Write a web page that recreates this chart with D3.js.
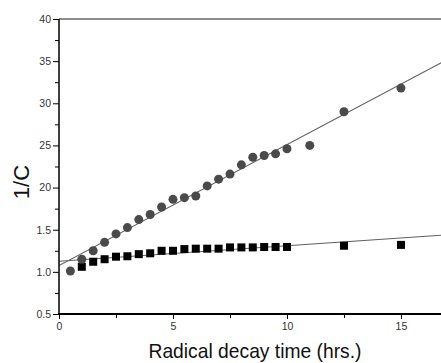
<!DOCTYPE html>
<html><head><meta charset="utf-8">
<script src="https://cdn.jsdelivr.net/npm/d3@7"></script>
<style>body{margin:0;background:#fff}svg{display:block}</style>
</head><body><svg id="c" width="441" height="363"></svg>
<script>
// Data
const circleTimes = [0.5,1,1.5,2,2.5,3,3.5,4,4.5,5,5.5,6,6.5,7,7.5,8,8.5,9,9.5,10,11,12.5,15];
const circleValues = [1.01,1.15,1.25,1.35,1.45,1.525,1.62,1.68,1.77,1.86,1.88,1.90,2.02,2.10,2.16,2.27,2.36,2.38,2.40,2.46,2.50,2.90,3.18];
const squareTimes = [1,1.5,2,2.5,3,3.5,4,4.5,5,5.5,6,6.5,7,7.5,8,8.5,9,9.5,10,12.5,15];
const squareValues = [1.06,1.12,1.15,1.18,1.185,1.21,1.22,1.25,1.25,1.27,1.275,1.275,1.275,1.29,1.29,1.29,1.295,1.295,1.295,1.31,1.32];
const fitIntercepts = [1.075, 1.125]; // circles, squares
const fitSlopes = [0.1435, 0.0185];
const xTicks = [0,5,10,15];
const xMinorTicks = [2.5,7.5,12.5];
const yTicks = [0.5,1.0,1.5,2.0,2.5,3.0,3.5,4.0];
const yTickLabels = ["0.5","1.0","1.5","20","25","30","35","40"];
const yMinorTicks = [0.75,1.25,1.75,2.25,2.75,3.25,3.75];
const xTitle = "Radical decay time (hrs.)";
const yTitle = "1/C";

const svg = d3.select("#c");
const x = d3.scaleLinear().domain([0,16.8]).range([59,442]);
const y = d3.scaleLinear().domain([0.5,4.0]).range([314,19]);
const font = "Liberation Sans, Arial, sans-serif";

// top frame line
svg.append("line").attr("x1",x(0)).attr("x2",441).attr("y1",y(4)).attr("y2",y(4))
  .attr("stroke","#666").attr("stroke-width",1.5);

// fit lines
svg.append("clipPath").attr("id","pc").append("rect")
  .attr("x",x(0)).attr("y",y(4)).attr("width",441-x(0)).attr("height",y(0.5)-y(4));
const g = svg.append("g").attr("clip-path","url(#pc)");
fitIntercepts.forEach((b,i)=>{
  const m = fitSlopes[i];
  g.append("line").attr("x1",x(0)).attr("y1",y(b)).attr("x2",x(16.8)).attr("y2",y(b+m*16.8))
   .attr("stroke","#606060").attr("stroke-width",1.1);
});

// squares
svg.append("g").selectAll("rect").data(squareTimes.map((t,i)=>[t,squareValues[i]])).join("rect")
  .attr("x",d=>x(d[0])-4).attr("y",d=>y(d[1])-4).attr("width",8).attr("height",8)
  .attr("fill","#000");
// circles
svg.append("g").selectAll("circle").data(circleTimes.map((t,i)=>[t,circleValues[i]])).join("circle")
  .attr("cx",d=>x(d[0])).attr("cy",d=>y(d[1])).attr("r",4.5).attr("fill","#4a4a4a");

// x axis
const xa = svg.append("g").attr("transform",`translate(0,${y(0.5)})`);
xa.call(d3.axisBottom(x).tickValues(xTicks).tickFormat(d3.format("d")).tickSize(5).tickPadding(4));
xa.append("g").call(d3.axisBottom(x).tickValues(xMinorTicks).tickFormat("").tickSize(4));
xa.selectAll(".domain").remove();
xa.append("line").attr("x1",x(0)-1).attr("x2",441).attr("stroke","#000").attr("stroke-width",2);
xa.selectAll(".tick line").attr("stroke","#000").attr("stroke-width",1);
xa.selectAll("text").attr("font-family",font).attr("font-size",10.5).attr("fill","#333");

// y axis
const ya = svg.append("g").attr("transform",`translate(${x(0)},0)`);
ya.call(d3.axisLeft(y).tickValues(yTicks).tickFormat((d,i)=>yTickLabels[i]).tickSize(6).tickPadding(2));
ya.append("g").call(d3.axisLeft(y).tickValues(yMinorTicks).tickFormat("").tickSize(4));
ya.selectAll(".domain").remove();
ya.append("line").attr("y1",y(4)).attr("y2",y(0.5)+1).attr("stroke","#000").attr("stroke-width",1.5);
ya.selectAll(".tick line").attr("stroke","#000").attr("stroke-width",1);
ya.selectAll("text").attr("font-family",font).attr("font-size",10.5).attr("fill","#333");

// titles
svg.append("text").attr("x",255).attr("y",358).attr("text-anchor","middle")
  .attr("font-family",font).attr("font-size",21).attr("fill","#111")
  .attr("textLength",213).attr("lengthAdjust","spacingAndGlyphs").text(xTitle);
svg.append("text").attr("transform","translate(29,182) rotate(-90)").attr("text-anchor","middle")
  .attr("font-family",font).attr("font-size",22).attr("fill","#111").text(yTitle);
</script></body></html>
